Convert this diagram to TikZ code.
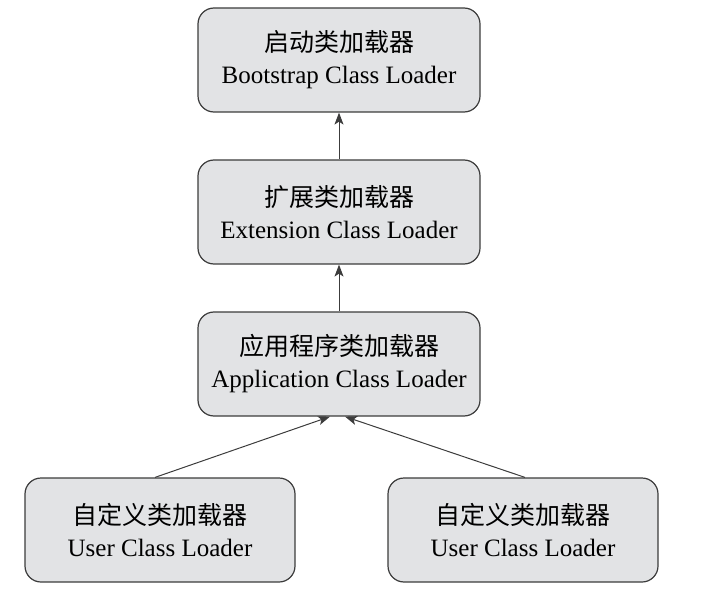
\documentclass[tikz,border=0pt]{standalone}
\usepackage{fontspec}
\setmainfont{Liberation Serif}
\newfontfamily\cjk{Noto Sans CJK SC}
\usepackage{tikz}
\usetikzlibrary{calc}
\usetikzlibrary{arrows.meta}
\usetikzlibrary{positioning}
\definecolor{boxgray}{RGB}{226, 227, 229}
\definecolor{edgegray}{RGB}{60, 60, 60}

\tikzset{
    loader/.style={draw=edgegray, fill=boxgray, line width=1.2pt, rounded corners=16pt,
                   minimum width=282pt, minimum height=104pt, align=center,
                   font=\fontsize{25}{32}\selectfont},
    userloader/.style={loader, minimum width=270pt},
    parent/.style={draw=edgegray, line width=1pt, -{Stealth[length=12pt, width=9pt, inset=3pt]}}
}

\begin{document}
\begin{tikzpicture}[x=1pt, y=1pt]
            % Frame to fix the size:
            \useasboundingbox                                                 (0, 0) rectangle (707, -599);
            % Loaders
            \node[loader]     (boot)  at (339,  -60) {{\cjk 启动类加载器}\\Bootstrap Class Loader};
            \node[loader]     (ext)   at (339, -212) {{\cjk 扩展类加载器}\\Extension Class Loader};
            \node[loader]     (app)   at (339, -364) {{\cjk 应用程序类加载器}\\Application Class Loader};
            \node[userloader] (userl) at (160, -530) {{\cjk 自定义类加载器}\\User Class Loader};
            \node[userloader] (userr) at (523, -530) {{\cjk 自定义类加载器}\\User Class Loader};
            % Delegation to parent
            \draw[parent] (ext.north) -- (boot.south);
            \draw[parent] (app.north) -- (ext.south);
            \draw[parent] ($(userl.north)+(-5, 0)$) -- ($(app.south)+(-9, 0)$);
            \draw[parent] ($(userr.north)+( 2, 0)$) -- ($(app.south)+( 6, 0)$);
        \end{tikzpicture}
\end{document}
